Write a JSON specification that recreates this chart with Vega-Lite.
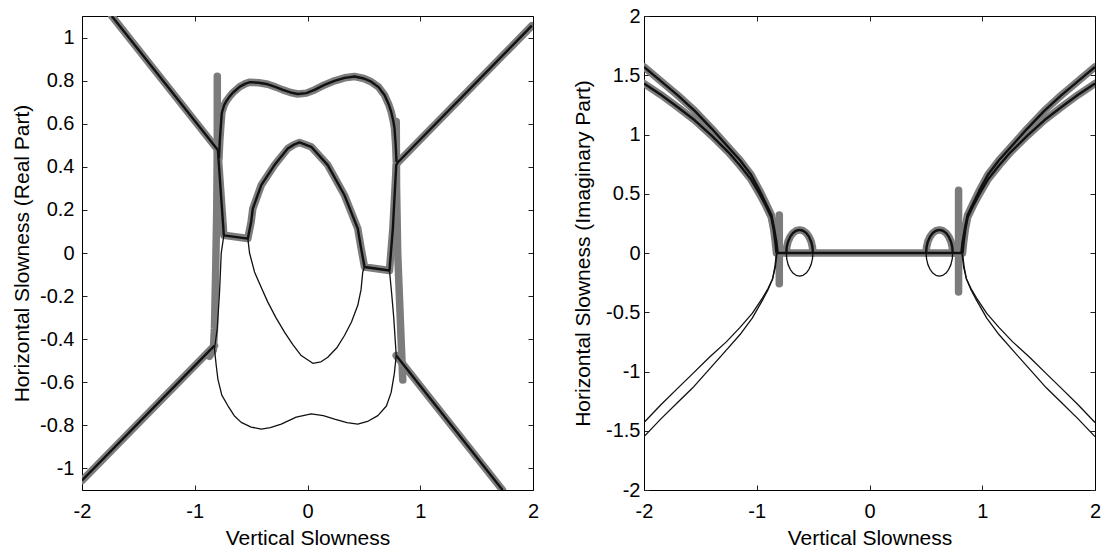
{
  "$schema": "https://vega.github.io/schema/vega-lite/v6.json",
  "background": "white",
  "padding": {"left": 11, "top": 6, "right": 2, "bottom": 0},
  "spacing": 33,
  "datasets": {
    "real": [
      {"s":"A","src":"both","i":0,"x":-1.736,"y":1.1},
      {"s":"A","src":"both","i":1,"x":-0.795,"y":0.478},
      {"s":"A","src":"both","i":2,"x":-0.742,"y":0.082},
      {"s":"A","src":"both","i":3,"x":-0.529,"y":0.067},
      {"s":"A","src":"both","i":4,"x":-0.5,"y":0.144},
      {"s":"A","src":"both","i":5,"x":-0.485,"y":0.206},
      {"s":"A","src":"both","i":6,"x":-0.41,"y":0.315},
      {"s":"A","src":"both","i":7,"x":-0.293,"y":0.408},
      {"s":"A","src":"both","i":8,"x":-0.175,"y":0.485},
      {"s":"A","src":"both","i":9,"x":-0.12,"y":0.503},
      {"s":"A","src":"both","i":10,"x":-0.071,"y":0.513},
      {"s":"A","src":"both","i":11,"x":0.033,"y":0.493},
      {"s":"A","src":"both","i":12,"x":0.18,"y":0.408},
      {"s":"A","src":"both","i":13,"x":0.328,"y":0.268},
      {"s":"A","src":"both","i":14,"x":0.446,"y":0.113},
      {"s":"A","src":"both","i":15,"x":0.476,"y":0.02},
      {"s":"A","src":"both","i":16,"x":0.506,"y":-0.065},
      {"s":"A","src":"both","i":17,"x":0.727,"y":-0.081},
      {"s":"A","src":"both","i":18,"x":0.757,"y":0.113},
      {"s":"A","src":"both","i":19,"x":0.787,"y":0.408},
      {"s":"A","src":"both","i":20,"x":0.8,"y":0.42},
      {"s":"A","src":"both","i":21,"x":1.99,"y":1.055},

      {"s":"B","src":"both","i":0,"x":-0.785,"y":0.44},
      {"s":"B","src":"both","i":1,"x":-0.778,"y":0.52},
      {"s":"B","src":"both","i":2,"x":-0.77,"y":0.58},
      {"s":"B","src":"both","i":3,"x":-0.76,"y":0.65},
      {"s":"B","src":"both","i":4,"x":-0.74,"y":0.685},
      {"s":"B","src":"both","i":5,"x":-0.72,"y":0.705},
      {"s":"B","src":"both","i":6,"x":-0.69,"y":0.727},
      {"s":"B","src":"both","i":7,"x":-0.66,"y":0.745},
      {"s":"B","src":"both","i":8,"x":-0.6,"y":0.772},
      {"s":"B","src":"both","i":9,"x":-0.55,"y":0.786},
      {"s":"B","src":"both","i":10,"x":-0.51,"y":0.793},
      {"s":"B","src":"both","i":11,"x":-0.43,"y":0.79},
      {"s":"B","src":"both","i":12,"x":-0.352,"y":0.783},
      {"s":"B","src":"both","i":13,"x":-0.28,"y":0.77},
      {"s":"B","src":"both","i":14,"x":-0.219,"y":0.757},
      {"s":"B","src":"both","i":15,"x":-0.15,"y":0.745},
      {"s":"B","src":"both","i":16,"x":-0.086,"y":0.738},
      {"s":"B","src":"both","i":17,"x":-0.01,"y":0.742},
      {"s":"B","src":"both","i":18,"x":0.062,"y":0.757},
      {"s":"B","src":"both","i":19,"x":0.15,"y":0.78},
      {"s":"B","src":"both","i":20,"x":0.24,"y":0.799},
      {"s":"B","src":"both","i":21,"x":0.33,"y":0.813},
      {"s":"B","src":"both","i":22,"x":0.417,"y":0.819},
      {"s":"B","src":"both","i":23,"x":0.5,"y":0.81},
      {"s":"B","src":"both","i":24,"x":0.565,"y":0.795},
      {"s":"B","src":"both","i":25,"x":0.63,"y":0.77},
      {"s":"B","src":"both","i":26,"x":0.683,"y":0.733},
      {"s":"B","src":"both","i":27,"x":0.72,"y":0.69},
      {"s":"B","src":"both","i":28,"x":0.742,"y":0.656},
      {"s":"B","src":"both","i":29,"x":0.762,"y":0.61},
      {"s":"B","src":"both","i":30,"x":0.772,"y":0.578},
      {"s":"B","src":"both","i":31,"x":0.782,"y":0.5},
      {"s":"B","src":"both","i":32,"x":0.79,"y":0.423},

      {"s":"C","src":"analytic","i":0,"x":-0.742,"y":0.082},
      {"s":"C","src":"analytic","i":1,"x":-0.765,"y":0.0},
      {"s":"C","src":"analytic","i":2,"x":-0.78,"y":-0.18},
      {"s":"C","src":"analytic","i":3,"x":-0.8,"y":-0.35},
      {"s":"C","src":"analytic","i":4,"x":-0.825,"y":-0.445},
      {"s":"C","src":"analytic","i":5,"x":-0.81,"y":-0.52},
      {"s":"C","src":"analytic","i":6,"x":-0.795,"y":-0.585},
      {"s":"C","src":"analytic","i":7,"x":-0.76,"y":-0.66},
      {"s":"C","src":"analytic","i":8,"x":-0.707,"y":-0.708},
      {"s":"C","src":"analytic","i":9,"x":-0.65,"y":-0.755},
      {"s":"C","src":"analytic","i":10,"x":-0.588,"y":-0.786},
      {"s":"C","src":"analytic","i":11,"x":-0.5,"y":-0.808},
      {"s":"C","src":"analytic","i":12,"x":-0.41,"y":-0.817},
      {"s":"C","src":"analytic","i":13,"x":-0.33,"y":-0.81},
      {"s":"C","src":"analytic","i":14,"x":-0.233,"y":-0.794},
      {"s":"C","src":"analytic","i":15,"x":-0.1,"y":-0.762},
      {"s":"C","src":"analytic","i":16,"x":0.033,"y":-0.747},
      {"s":"C","src":"analytic","i":17,"x":0.14,"y":-0.755},
      {"s":"C","src":"analytic","i":18,"x":0.24,"y":-0.771},
      {"s":"C","src":"analytic","i":19,"x":0.35,"y":-0.787},
      {"s":"C","src":"analytic","i":20,"x":0.446,"y":-0.794},
      {"s":"C","src":"analytic","i":21,"x":0.54,"y":-0.78},
      {"s":"C","src":"analytic","i":22,"x":0.624,"y":-0.755},
      {"s":"C","src":"analytic","i":23,"x":0.7,"y":-0.71},
      {"s":"C","src":"analytic","i":24,"x":0.742,"y":-0.647},
      {"s":"C","src":"analytic","i":25,"x":0.77,"y":-0.56},
      {"s":"C","src":"analytic","i":26,"x":0.787,"y":-0.476},
      {"s":"C","src":"analytic","i":27,"x":0.765,"y":-0.3},
      {"s":"C","src":"analytic","i":28,"x":0.745,"y":-0.18},
      {"s":"C","src":"analytic","i":29,"x":0.727,"y":-0.081},

      {"s":"D","src":"analytic","i":0,"x":-0.529,"y":0.067},
      {"s":"D","src":"analytic","i":1,"x":-0.514,"y":0.0},
      {"s":"D","src":"analytic","i":2,"x":-0.47,"y":-0.088},
      {"s":"D","src":"analytic","i":3,"x":-0.41,"y":-0.16},
      {"s":"D","src":"analytic","i":4,"x":-0.352,"y":-0.228},
      {"s":"D","src":"analytic","i":5,"x":-0.28,"y":-0.3},
      {"s":"D","src":"analytic","i":6,"x":-0.204,"y":-0.367},
      {"s":"D","src":"analytic","i":7,"x":-0.13,"y":-0.425},
      {"s":"D","src":"analytic","i":8,"x":-0.056,"y":-0.476},
      {"s":"D","src":"analytic","i":9,"x":0.047,"y":-0.512},
      {"s":"D","src":"analytic","i":10,"x":0.12,"y":-0.505},
      {"s":"D","src":"analytic","i":11,"x":0.18,"y":-0.484},
      {"s":"D","src":"analytic","i":12,"x":0.26,"y":-0.44},
      {"s":"D","src":"analytic","i":13,"x":0.328,"y":-0.383},
      {"s":"D","src":"analytic","i":14,"x":0.39,"y":-0.32},
      {"s":"D","src":"analytic","i":15,"x":0.446,"y":-0.243},
      {"s":"D","src":"analytic","i":16,"x":0.475,"y":-0.17},
      {"s":"D","src":"analytic","i":17,"x":0.49,"y":-0.088},
      {"s":"D","src":"analytic","i":18,"x":0.506,"y":-0.065},

      {"s":"E","src":"both","i":0,"x":0.787,"y":-0.476},
      {"s":"E","src":"both","i":1,"x":1.73,"y":-1.1},

      {"s":"F","src":"both","i":0,"x":-2,"y":-1.056},
      {"s":"F","src":"both","i":1,"x":-0.825,"y":-0.43},

      {"s":"G","src":"numeric","i":0,"x":-0.8,"y":0.82},
      {"s":"G","src":"numeric","i":1,"x":-0.8,"y":0.5},
      {"s":"G","src":"numeric","i":2,"x":-0.805,"y":0.2},
      {"s":"G","src":"numeric","i":3,"x":-0.815,"y":-0.1},
      {"s":"G","src":"numeric","i":4,"x":-0.825,"y":-0.35},
      {"s":"G","src":"numeric","i":5,"x":-0.835,"y":-0.45},
      {"s":"G","src":"numeric","i":6,"x":-0.87,"y":-0.48},

      {"s":"H","src":"numeric","i":0,"x":0.787,"y":0.61},
      {"s":"H","src":"numeric","i":1,"x":0.79,"y":0.3},
      {"s":"H","src":"numeric","i":2,"x":0.8,"y":0.0},
      {"s":"H","src":"numeric","i":3,"x":0.815,"y":-0.2},
      {"s":"H","src":"numeric","i":4,"x":0.83,"y":-0.4},
      {"s":"H","src":"numeric","i":5,"x":0.845,"y":-0.59}
    ],
    "imag": [
      {"s":"U1","src":"both","i":0,"x":-2,"y":1.57},
      {"s":"U1","src":"both","i":1,"x":-1.85,"y":1.45},
      {"s":"U1","src":"both","i":2,"x":-1.7,"y":1.33},
      {"s":"U1","src":"both","i":3,"x":-1.55,"y":1.2},
      {"s":"U1","src":"both","i":4,"x":-1.4,"y":1.05},
      {"s":"U1","src":"both","i":5,"x":-1.25,"y":0.89},
      {"s":"U1","src":"both","i":6,"x":-1.15,"y":0.785},
      {"s":"U1","src":"both","i":7,"x":-1.05,"y":0.66},
      {"s":"U1","src":"both","i":8,"x":-0.976,"y":0.53},
      {"s":"U1","src":"both","i":9,"x":-0.92,"y":0.42},
      {"s":"U1","src":"both","i":10,"x":-0.87,"y":0.32},
      {"s":"U1","src":"both","i":11,"x":-0.845,"y":0.2},
      {"s":"U1","src":"both","i":12,"x":-0.825,"y":0.09},
      {"s":"U1","src":"both","i":13,"x":-0.815,"y":0},

      {"s":"U2","src":"both","i":0,"x":-2,"y":1.43},
      {"s":"U2","src":"both","i":1,"x":-1.85,"y":1.335},
      {"s":"U2","src":"both","i":2,"x":-1.7,"y":1.23},
      {"s":"U2","src":"both","i":3,"x":-1.55,"y":1.12},
      {"s":"U2","src":"both","i":4,"x":-1.4,"y":0.99},
      {"s":"U2","src":"both","i":5,"x":-1.25,"y":0.85},
      {"s":"U2","src":"both","i":6,"x":-1.15,"y":0.74},
      {"s":"U2","src":"both","i":7,"x":-1.05,"y":0.62},
      {"s":"U2","src":"both","i":8,"x":-0.976,"y":0.5},
      {"s":"U2","src":"both","i":9,"x":-0.92,"y":0.4},
      {"s":"U2","src":"both","i":10,"x":-0.87,"y":0.3},
      {"s":"U2","src":"both","i":11,"x":-0.85,"y":0.2},
      {"s":"U2","src":"both","i":12,"x":-0.835,"y":0.09},
      {"s":"U2","src":"both","i":13,"x":-0.825,"y":0},

      {"s":"U3","src":"both","i":0,"x":2,"y":1.57},
      {"s":"U3","src":"both","i":1,"x":1.85,"y":1.45},
      {"s":"U3","src":"both","i":2,"x":1.7,"y":1.33},
      {"s":"U3","src":"both","i":3,"x":1.55,"y":1.2},
      {"s":"U3","src":"both","i":4,"x":1.4,"y":1.05},
      {"s":"U3","src":"both","i":5,"x":1.25,"y":0.89},
      {"s":"U3","src":"both","i":6,"x":1.15,"y":0.785},
      {"s":"U3","src":"both","i":7,"x":1.05,"y":0.66},
      {"s":"U3","src":"both","i":8,"x":0.976,"y":0.53},
      {"s":"U3","src":"both","i":9,"x":0.92,"y":0.42},
      {"s":"U3","src":"both","i":10,"x":0.87,"y":0.32},
      {"s":"U3","src":"both","i":11,"x":0.845,"y":0.2},
      {"s":"U3","src":"both","i":12,"x":0.825,"y":0.09},
      {"s":"U3","src":"both","i":13,"x":0.815,"y":0},

      {"s":"U4","src":"both","i":0,"x":2,"y":1.43},
      {"s":"U4","src":"both","i":1,"x":1.85,"y":1.335},
      {"s":"U4","src":"both","i":2,"x":1.7,"y":1.23},
      {"s":"U4","src":"both","i":3,"x":1.55,"y":1.12},
      {"s":"U4","src":"both","i":4,"x":1.4,"y":0.99},
      {"s":"U4","src":"both","i":5,"x":1.25,"y":0.85},
      {"s":"U4","src":"both","i":6,"x":1.15,"y":0.74},
      {"s":"U4","src":"both","i":7,"x":1.05,"y":0.62},
      {"s":"U4","src":"both","i":8,"x":0.976,"y":0.5},
      {"s":"U4","src":"both","i":9,"x":0.92,"y":0.4},
      {"s":"U4","src":"both","i":10,"x":0.87,"y":0.3},
      {"s":"U4","src":"both","i":11,"x":0.85,"y":0.2},
      {"s":"U4","src":"both","i":12,"x":0.835,"y":0.09},
      {"s":"U4","src":"both","i":13,"x":0.825,"y":0},

      {"s":"L1","src":"analytic","i":0,"x":-2,"y":-1.43},
      {"s":"L1","src":"analytic","i":1,"x":-1.85,"y":-1.28},
      {"s":"L1","src":"analytic","i":2,"x":-1.7,"y":-1.14},
      {"s":"L1","src":"analytic","i":3,"x":-1.57,"y":-1.02},
      {"s":"L1","src":"analytic","i":4,"x":-1.42,"y":-0.88},
      {"s":"L1","src":"analytic","i":5,"x":-1.27,"y":-0.75},
      {"s":"L1","src":"analytic","i":6,"x":-1.15,"y":-0.63},
      {"s":"L1","src":"analytic","i":7,"x":-1.04,"y":-0.51},
      {"s":"L1","src":"analytic","i":8,"x":-0.95,"y":-0.38},
      {"s":"L1","src":"analytic","i":9,"x":-0.9,"y":-0.3},
      {"s":"L1","src":"analytic","i":10,"x":-0.86,"y":-0.22},
      {"s":"L1","src":"analytic","i":11,"x":-0.835,"y":-0.12},
      {"s":"L1","src":"analytic","i":12,"x":-0.82,"y":0},

      {"s":"L2","src":"analytic","i":0,"x":-2,"y":-1.55},
      {"s":"L2","src":"analytic","i":1,"x":-1.85,"y":-1.4},
      {"s":"L2","src":"analytic","i":2,"x":-1.7,"y":-1.26},
      {"s":"L2","src":"analytic","i":3,"x":-1.57,"y":-1.14},
      {"s":"L2","src":"analytic","i":4,"x":-1.42,"y":-0.98},
      {"s":"L2","src":"analytic","i":5,"x":-1.27,"y":-0.82},
      {"s":"L2","src":"analytic","i":6,"x":-1.15,"y":-0.69},
      {"s":"L2","src":"analytic","i":7,"x":-1.04,"y":-0.55},
      {"s":"L2","src":"analytic","i":8,"x":-0.95,"y":-0.4},
      {"s":"L2","src":"analytic","i":9,"x":-0.9,"y":-0.31},
      {"s":"L2","src":"analytic","i":10,"x":-0.86,"y":-0.22},
      {"s":"L2","src":"analytic","i":11,"x":-0.84,"y":-0.12},
      {"s":"L2","src":"analytic","i":12,"x":-0.825,"y":0},

      {"s":"L3","src":"analytic","i":0,"x":2,"y":-1.43},
      {"s":"L3","src":"analytic","i":1,"x":1.85,"y":-1.28},
      {"s":"L3","src":"analytic","i":2,"x":1.7,"y":-1.14},
      {"s":"L3","src":"analytic","i":3,"x":1.57,"y":-1.02},
      {"s":"L3","src":"analytic","i":4,"x":1.42,"y":-0.88},
      {"s":"L3","src":"analytic","i":5,"x":1.27,"y":-0.75},
      {"s":"L3","src":"analytic","i":6,"x":1.15,"y":-0.63},
      {"s":"L3","src":"analytic","i":7,"x":1.04,"y":-0.51},
      {"s":"L3","src":"analytic","i":8,"x":0.95,"y":-0.38},
      {"s":"L3","src":"analytic","i":9,"x":0.9,"y":-0.3},
      {"s":"L3","src":"analytic","i":10,"x":0.86,"y":-0.22},
      {"s":"L3","src":"analytic","i":11,"x":0.835,"y":-0.12},
      {"s":"L3","src":"analytic","i":12,"x":0.82,"y":0},

      {"s":"L4","src":"analytic","i":0,"x":2,"y":-1.55},
      {"s":"L4","src":"analytic","i":1,"x":1.85,"y":-1.4},
      {"s":"L4","src":"analytic","i":2,"x":1.7,"y":-1.26},
      {"s":"L4","src":"analytic","i":3,"x":1.57,"y":-1.14},
      {"s":"L4","src":"analytic","i":4,"x":1.42,"y":-0.98},
      {"s":"L4","src":"analytic","i":5,"x":1.27,"y":-0.82},
      {"s":"L4","src":"analytic","i":6,"x":1.15,"y":-0.69},
      {"s":"L4","src":"analytic","i":7,"x":1.04,"y":-0.55},
      {"s":"L4","src":"analytic","i":8,"x":0.95,"y":-0.4},
      {"s":"L4","src":"analytic","i":9,"x":0.9,"y":-0.31},
      {"s":"L4","src":"analytic","i":10,"x":0.86,"y":-0.22},
      {"s":"L4","src":"analytic","i":11,"x":0.84,"y":-0.12},
      {"s":"L4","src":"analytic","i":12,"x":0.825,"y":0},

      {"s":"Z","src":"both","i":0,"x":-0.82,"y":0},
      {"s":"Z","src":"both","i":1,"x":0.82,"y":0},

      {"s":"KLU","src":"both","i":0,"x":-0.502,"y":0},
      {"s":"KLU","src":"both","i":1,"x":-0.506,"y":0.05},
      {"s":"KLU","src":"both","i":2,"x":-0.518,"y":0.098},
      {"s":"KLU","src":"both","i":3,"x":-0.537,"y":0.138},
      {"s":"KLU","src":"both","i":4,"x":-0.561,"y":0.169},
      {"s":"KLU","src":"both","i":5,"x":-0.589,"y":0.188},
      {"s":"KLU","src":"both","i":6,"x":-0.62,"y":0.195},
      {"s":"KLU","src":"both","i":7,"x":-0.651,"y":0.188},
      {"s":"KLU","src":"both","i":8,"x":-0.679,"y":0.169},
      {"s":"KLU","src":"both","i":9,"x":-0.703,"y":0.138},
      {"s":"KLU","src":"both","i":10,"x":-0.722,"y":0.098},
      {"s":"KLU","src":"both","i":11,"x":-0.734,"y":0.05},
      {"s":"KLU","src":"both","i":12,"x":-0.738,"y":0},

      {"s":"KLD","src":"analytic","i":0,"x":-0.502,"y":0},
      {"s":"KLD","src":"analytic","i":1,"x":-0.506,"y":-0.05},
      {"s":"KLD","src":"analytic","i":2,"x":-0.518,"y":-0.098},
      {"s":"KLD","src":"analytic","i":3,"x":-0.537,"y":-0.138},
      {"s":"KLD","src":"analytic","i":4,"x":-0.561,"y":-0.169},
      {"s":"KLD","src":"analytic","i":5,"x":-0.589,"y":-0.188},
      {"s":"KLD","src":"analytic","i":6,"x":-0.62,"y":-0.195},
      {"s":"KLD","src":"analytic","i":7,"x":-0.651,"y":-0.188},
      {"s":"KLD","src":"analytic","i":8,"x":-0.679,"y":-0.169},
      {"s":"KLD","src":"analytic","i":9,"x":-0.703,"y":-0.138},
      {"s":"KLD","src":"analytic","i":10,"x":-0.722,"y":-0.098},
      {"s":"KLD","src":"analytic","i":11,"x":-0.734,"y":-0.05},
      {"s":"KLD","src":"analytic","i":12,"x":-0.738,"y":0},

      {"s":"KRU","src":"both","i":0,"x":0.502,"y":0},
      {"s":"KRU","src":"both","i":1,"x":0.506,"y":0.05},
      {"s":"KRU","src":"both","i":2,"x":0.518,"y":0.098},
      {"s":"KRU","src":"both","i":3,"x":0.537,"y":0.138},
      {"s":"KRU","src":"both","i":4,"x":0.561,"y":0.169},
      {"s":"KRU","src":"both","i":5,"x":0.589,"y":0.188},
      {"s":"KRU","src":"both","i":6,"x":0.62,"y":0.195},
      {"s":"KRU","src":"both","i":7,"x":0.651,"y":0.188},
      {"s":"KRU","src":"both","i":8,"x":0.679,"y":0.169},
      {"s":"KRU","src":"both","i":9,"x":0.703,"y":0.138},
      {"s":"KRU","src":"both","i":10,"x":0.722,"y":0.098},
      {"s":"KRU","src":"both","i":11,"x":0.734,"y":0.05},
      {"s":"KRU","src":"both","i":12,"x":0.738,"y":0},

      {"s":"KRD","src":"analytic","i":0,"x":0.502,"y":0},
      {"s":"KRD","src":"analytic","i":1,"x":0.506,"y":-0.05},
      {"s":"KRD","src":"analytic","i":2,"x":0.518,"y":-0.098},
      {"s":"KRD","src":"analytic","i":3,"x":0.537,"y":-0.138},
      {"s":"KRD","src":"analytic","i":4,"x":0.561,"y":-0.169},
      {"s":"KRD","src":"analytic","i":5,"x":0.589,"y":-0.188},
      {"s":"KRD","src":"analytic","i":6,"x":0.62,"y":-0.195},
      {"s":"KRD","src":"analytic","i":7,"x":0.651,"y":-0.188},
      {"s":"KRD","src":"analytic","i":8,"x":0.679,"y":-0.169},
      {"s":"KRD","src":"analytic","i":9,"x":0.703,"y":-0.138},
      {"s":"KRD","src":"analytic","i":10,"x":0.722,"y":-0.098},
      {"s":"KRD","src":"analytic","i":11,"x":0.734,"y":-0.05},
      {"s":"KRD","src":"analytic","i":12,"x":0.738,"y":0},

      {"s":"NL","src":"numeric","i":0,"x":-0.8,"y":0.32},
      {"s":"NL","src":"numeric","i":1,"x":-0.8,"y":-0.26},
      {"s":"NR","src":"numeric","i":0,"x":0.79,"y":0.53},
      {"s":"NR","src":"numeric","i":1,"x":0.79,"y":-0.33}
    ]
  },
  "hconcat": [
    {
      "width": 451,
      "height": 474,
      "data": {"name": "real"},
      "resolve": {"axis": {"x": "independent", "y": "independent"}},
      "layer": [
        {
          "transform": [{"filter": "datum.src != 'analytic'"}],
          "mark": {"type": "line", "color": "#7c7c7c", "strokeWidth": 7.5, "strokeCap": "round", "strokeJoin": "round", "clip": true},
          "encoding": {
            "x": {"field": "x", "type": "quantitative", "scale": {"domain": [-2, 2], "nice": false, "zero": false},
                  "axis": {"orient": "bottom", "values": [-2, -1, 0, 1, 2], "title": "Vertical Slowness", "labelPadding": 16, "titlePadding": 6}},
            "y": {"field": "y", "type": "quantitative", "scale": {"domain": [-1.1, 1.1], "nice": false, "zero": false},
                  "axis": {"orient": "left", "values": [-1, -0.8, -0.6, -0.4, -0.2, 0, 0.2, 0.4, 0.6, 0.8, 1], "title": "Horizontal Slowness (Real Part)", "labelPadding": 13, "titlePadding": 7}},
            "detail": {"field": "s"},
            "order": {"field": "i"}
          }
        },
        {
          "transform": [{"filter": "datum.src == 'both'"}],
          "mark": {"type": "line", "color": "#111111", "strokeWidth": 2.4, "strokeJoin": "round", "clip": true},
          "encoding": {
            "x": {"field": "x", "type": "quantitative", "scale": {"domain": [-2, 2], "nice": false, "zero": false},
                  "axis": {"orient": "top", "values": [-2, -1, 0, 1, 2], "labels": false, "title": null}},
            "y": {"field": "y", "type": "quantitative", "scale": {"domain": [-1.1, 1.1], "nice": false, "zero": false},
                  "axis": {"orient": "right", "values": [-1, -0.8, -0.6, -0.4, -0.2, 0, 0.2, 0.4, 0.6, 0.8, 1], "labels": false, "title": null}},
            "detail": {"field": "s"},
            "order": {"field": "i"}
          }
        },
        {
          "transform": [{"filter": "datum.src == 'analytic'"}],
          "mark": {"type": "line", "color": "#111111", "strokeWidth": 1.3, "strokeJoin": "round", "clip": true},
          "encoding": {
            "x": {"field": "x", "type": "quantitative", "scale": {"domain": [-2, 2], "nice": false, "zero": false}, "axis": null},
            "y": {"field": "y", "type": "quantitative", "scale": {"domain": [-1.1, 1.1], "nice": false, "zero": false}, "axis": null},
            "detail": {"field": "s"},
            "order": {"field": "i"}
          }
        }
      ]
    },
    {
      "width": 451,
      "height": 474,
      "data": {"name": "imag"},
      "resolve": {"axis": {"x": "independent", "y": "independent"}},
      "layer": [
        {
          "transform": [{"filter": "datum.src != 'analytic'"}],
          "mark": {"type": "line", "color": "#7c7c7c", "strokeWidth": 7.5, "strokeCap": "round", "strokeJoin": "round", "clip": true},
          "encoding": {
            "x": {"field": "x", "type": "quantitative", "scale": {"domain": [-2, 2], "nice": false, "zero": false},
                  "axis": {"orient": "bottom", "values": [-2, -1, 0, 1, 2], "title": "Vertical Slowness", "labelPadding": 16, "titlePadding": 6}},
            "y": {"field": "y", "type": "quantitative", "scale": {"domain": [-2, 2], "nice": false, "zero": false},
                  "axis": {"orient": "left", "values": [-2, -1.5, -1, -0.5, 0, 0.5, 1, 1.5, 2], "title": "Horizontal Slowness (Imaginary Part)", "labelPadding": 9, "titlePadding": 12}},
            "detail": {"field": "s"},
            "order": {"field": "i"}
          }
        },
        {
          "transform": [{"filter": "datum.src == 'both'"}],
          "mark": {"type": "line", "color": "#111111", "strokeWidth": 2.4, "strokeJoin": "round", "clip": true},
          "encoding": {
            "x": {"field": "x", "type": "quantitative", "scale": {"domain": [-2, 2], "nice": false, "zero": false},
                  "axis": {"orient": "top", "values": [-2, -1, 0, 1, 2], "labels": false, "title": null}},
            "y": {"field": "y", "type": "quantitative", "scale": {"domain": [-2, 2], "nice": false, "zero": false},
                  "axis": {"orient": "right", "values": [-2, -1.5, -1, -0.5, 0, 0.5, 1, 1.5, 2], "labels": false, "title": null}},
            "detail": {"field": "s"},
            "order": {"field": "i"}
          }
        },
        {
          "transform": [{"filter": "datum.src == 'analytic'"}],
          "mark": {"type": "line", "color": "#111111", "strokeWidth": 1.3, "strokeJoin": "round", "clip": true},
          "encoding": {
            "x": {"field": "x", "type": "quantitative", "scale": {"domain": [-2, 2], "nice": false, "zero": false}, "axis": null},
            "y": {"field": "y", "type": "quantitative", "scale": {"domain": [-2, 2], "nice": false, "zero": false}, "axis": null},
            "detail": {"field": "s"},
            "order": {"field": "i"}
          }
        }
      ]
    }
  ],
  "config": {
    "view": {"stroke": null},
    "axis": {
      "grid": false,
      "domainColor": "#000000",
      "domainWidth": 1,
      "tickColor": "#222222",
      "tickWidth": 1,
      "tickSize": -5,
      "labelFont": "Liberation Sans",
      "labelFontSize": 20,
      "labelColor": "#000000",
      "labelFlush": false,
      "labelOverlap": false,
      "labelExpr": "(datum.value < 0 ? '-' : '') + format(abs(datum.value), '~g')",
      "titleFont": "Liberation Sans",
      "titleFontSize": 21,
      "titleFontWeight": "normal",
      "titleColor": "#000000"
    }
  }
}
